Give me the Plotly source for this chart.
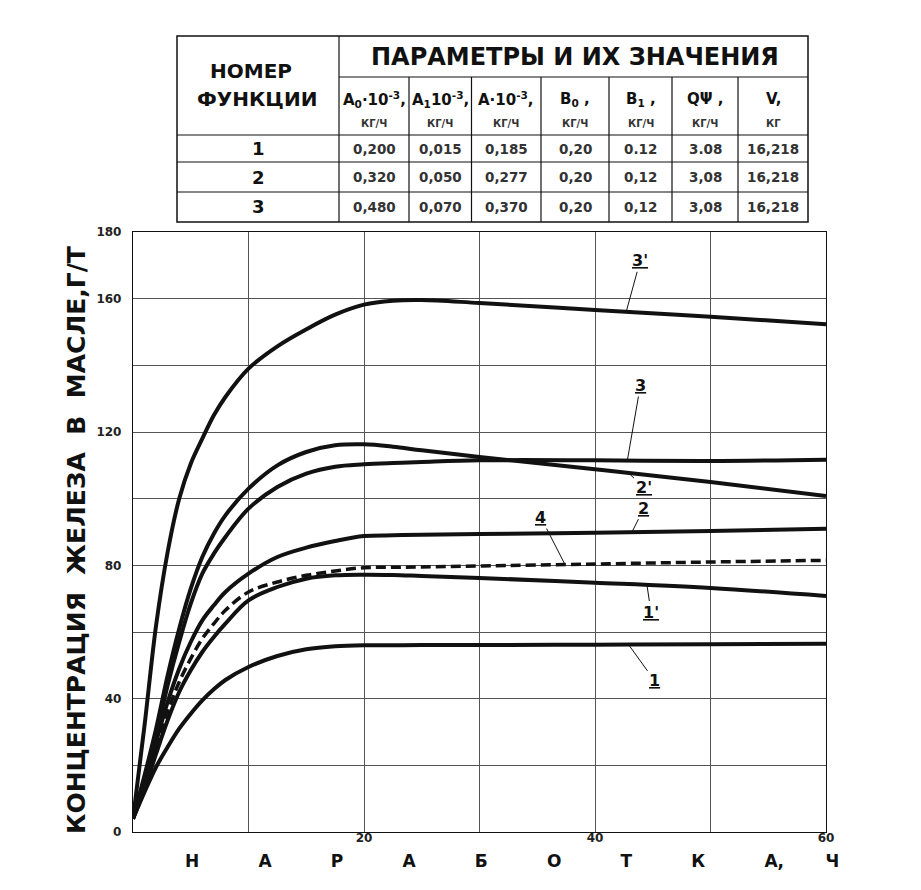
import numpy as np
import plotly.graph_objects as go

# Operating time, hours
hours = [0, 1, 2, 3, 4, 5, 6, 7, 8, 10, 12.5, 15, 17.5, 20, 22.5, 25, 30, 40, 50, 60]

# Iron concentration in oil, g/t
conc_1 = [4, 12, 19.5, 25.5, 31, 35.5, 39.5, 42.8, 45.6, 49.5, 52.8, 54.8, 55.7, 56, 56, 56.1, 56.1, 56.2, 56.3, 56.5]
conc_1p = [4, 13, 23.5, 33.5, 42, 48.5, 54, 58.5, 62.5, 69.5, 73.5, 76, 77, 77.2, 77.1, 76.8, 76.2, 74.8, 73.2, 70.8]
conc_4 = [4, 13.5, 25, 36, 45, 52, 58, 62.5, 66.5, 72, 75, 77, 78.3, 79.3, 79.4, 79.5, 79.8, 80.4, 81, 81.5]
conc_2 = [4, 14, 27, 39, 49, 57, 63.5, 68, 72, 77.5, 82.5, 85.3, 87.3, 88.8, 89, 89.2, 89.4, 89.8, 90.3, 91]
conc_3 = [4, 16, 29, 44, 57, 68.5, 77.5, 83.5, 88.5, 97, 103.5, 107.5, 109.6, 110.3, 110.7, 111, 111.5, 111.5, 111.3, 111.7]
conc_2p = [4, 17, 31, 47, 61, 73, 82.5, 89.5, 95, 103, 110, 114, 116, 116.3, 115.6, 114.5, 112.5, 108.8, 105, 100.8]
conc_3p = [4, 32, 62, 84, 100, 110.5, 118, 125, 130.5, 139, 145.7, 150.8, 155.2, 158.2, 159.4, 159.6, 158.7, 156.6, 154.6, 152.3]

# Axis ticks
x_ticks = [0, 10, 20, 30, 40, 50, 60]
x_tick_text = ["", "", "20", "", "40", "", "60"]
y_ticks = [0, 20, 40, 60, 80, 100, 120, 140, 160, 180]
y_tick_text = ["0", "", "40", "", "80", "", "120", "", "160", "180"]

# Parameter table
func_numbers = ["1", "2", "3"]
param_names = ["A<sub>0</sub>·10<sup>-3</sup>,", "A<sub>1</sub>10<sup>-3</sup>,", "A·10<sup>-3</sup>,",
               "B<sub>0</sub> ,", "B<sub>1</sub> ,", "QΨ ,", "V,"]
param_units = ["КГ/Ч", "КГ/Ч", "КГ/Ч", "КГ/Ч", "КГ/Ч", "КГ/Ч", "КГ"]
a0_vals = ["0,200", "0,320", "0,480"]
a1_vals = ["0,015", "0,050", "0,070"]
a_vals = ["0,185", "0,277", "0,370"]
b0_vals = ["0,20", "0,20", "0,20"]
b1_vals = ["0.12", "0,12", "0,12"]
q_vals = ["3.08", "3,08", "3,08"]
v_vals = ["16,218", "16,218", "16,218"]

FONT = "DejaVu Sans"
INK = "#111111"

W, H = 921, 890
L, R, T, B = 133, 95, 232, 58
PW = W - L - R
PH = H - T - B


def px(xp):
    return (xp - L) / PW


def py(yp):
    return (H - B - yp) / PH


fig = go.Figure()

series = [
    (conc_1, "solid"), (conc_1p, "solid"), (conc_2, "solid"), (conc_2p, "solid"),
    (conc_3, "solid"), (conc_3p, "solid"), (conc_4, "dash"),
]
for ys, dash in series:
    fig.add_trace(go.Scatter(
        x=hours, y=ys, mode="lines",
        line=dict(color=INK, width=4 if dash == "solid" else 3.5,
                  dash="10px,5px" if dash == "dash" else "solid",
                  shape="spline", smoothing=1.0),
        hoverinfo="skip",
    ))

# Curve labels with leader lines
curve_labels = [
    ("3'", conc_3p, 42.7, 14, -51),
    ("3", conc_3, 42.8, 13, -75),
    ("2'", conc_2p, 42.9, 15, 14),
    ("2", conc_2, 43.2, 12, -24),
    ("4", conc_4, 37.4, -24, -47),
    ("1'", conc_1p, 44.5, 4, 27),
    ("1", conc_1, 42.9, 26, 36),
]
annotations = []
for text, ys, xv, ax, ay in curve_labels:
    annotations.append(dict(
        x=xv, y=float(np.interp(xv, hours, ys)), xref="x", yref="y",
        text=f"<u>{text}</u>", showarrow=True, arrowhead=0, arrowwidth=1, arrowcolor=INK,
        ax=ax, ay=ay, font=dict(family=FONT, size=16, color=INK, weight=700),
    ))

# Axis titles
annotations.append(dict(
    x=px(76), y=py(540), xref="paper", yref="paper", textangle=-90,
    xanchor="center", yanchor="middle",
    text="КОНЦЕНТРАЦИЯ  ЖЕЛЕЗА  В  МАСЛЕ,Г/Т", showarrow=False,
    font=dict(family=FONT, size=25, color=INK, weight=700),
))
gap = " " * 10
x_title = gap.join(["Н", "А", "Р", "А", "Б", "О", "Т", "К", "А,"]) + " " * 7 + "Ч"
annotations.append(dict(
    x=px(512), y=py(861), xref="paper", yref="paper", xanchor="center", yanchor="middle",
    text=x_title, showarrow=False, font=dict(family=FONT, size=17, color=INK, weight=700),
))

# Table grid
shapes = []
tl, tr, tt, tb = 177, 808, 36, 222
col_edges = [339, 409, 471.5, 541, 609, 672, 738, 808]
row_edges = [135, 162, 192, 222]


def hline(x0, x1, y, w=1.2):
    shapes.append(dict(type="line", xref="paper", yref="paper", x0=px(x0), x1=px(x1), y0=py(y), y1=py(y),
                       line=dict(color=INK, width=w)))


def vline(x, y0, y1, w=1.2):
    shapes.append(dict(type="line", xref="paper", yref="paper", x0=px(x), x1=px(x), y0=py(y0), y1=py(y1),
                       line=dict(color=INK, width=w)))


shapes.append(dict(type="rect", xref="paper", yref="paper", x0=px(tl), x1=px(tr), y0=py(tb), y1=py(tt),
                   line=dict(color=INK, width=1.5)))
vline(col_edges[0], tt, tb)
hline(col_edges[0], tr, 77)
for xe in col_edges[1:-1]:
    vline(xe, 77, tb)
for ye in row_edges[:-1]:
    hline(tl, tr, ye)


def table_text(x, y, text, size, weight=700, color=INK):
    annotations.append(dict(x=px(x), y=py(y), xref="paper", yref="paper", text=text, showarrow=False,
                            xanchor="center", yanchor="middle",
                            font=dict(family=FONT, size=size, color=color, weight=weight)))


table_text(251, 71, "НОМЕР", 20)
table_text(257, 99, "ФУНКЦИИ", 20)
table_text(575, 57, "ПАРАМЕТРЫ И ИХ ЗНАЧЕНИЯ", 24)

col_centers = [(col_edges[i] + col_edges[i + 1]) / 2 for i in range(len(col_edges) - 1)]
for cx, name, unit in zip(col_centers, param_names, param_units):
    table_text(cx, 99, name, 15)
    table_text(cx, 123, unit, 10, color="#333333")

row_centers = [(row_edges[i] + row_edges[i + 1]) / 2 for i in range(len(row_edges) - 1)]
columns = [a0_vals, a1_vals, a_vals, b0_vals, b1_vals, q_vals, v_vals]
for r, (cy, num) in enumerate(zip(row_centers, func_numbers)):
    table_text(258, cy, num, 18)
    for cx, col in zip(col_centers, columns):
        table_text(cx, cy, col[r], 13.5, color="#333333")

fig.update_layout(
    width=W, height=H,
    margin=dict(l=L, r=R, t=T, b=B),
    paper_bgcolor="white", plot_bgcolor="white",
    showlegend=False,
    annotations=annotations, shapes=shapes,
    xaxis=dict(range=[0, 60], tickvals=x_ticks, ticktext=x_tick_text, showgrid=True, gridcolor="#555555",
               gridwidth=1, zeroline=False, showline=True, linecolor=INK, linewidth=1.3, mirror=True,
               ticks="", ticklabelstandoff=-6,
               tickfont=dict(family=FONT, size=12, color="#222222", weight=700)),
    yaxis=dict(range=[0, 180], tickvals=y_ticks, ticktext=y_tick_text, showgrid=True, gridcolor="#555555",
               gridwidth=1, zeroline=False, showline=True, linecolor=INK, linewidth=1.3, mirror=True,
               ticks="", ticklabelstandoff=8,
               tickfont=dict(family=FONT, size=12, color="#222222", weight=700)),
)

fig.write_html("out.html")
